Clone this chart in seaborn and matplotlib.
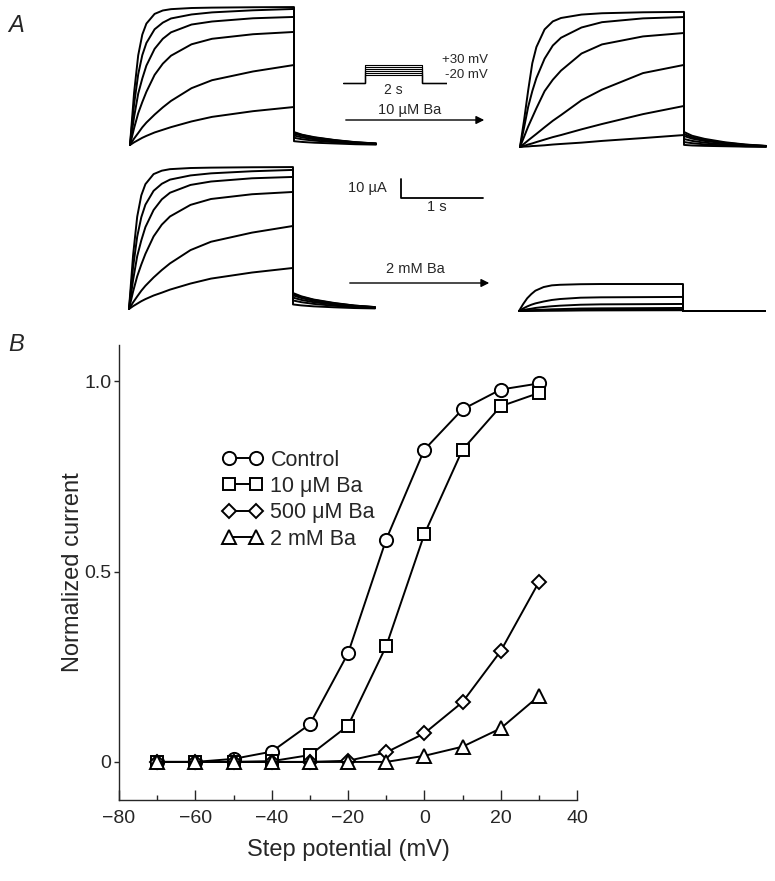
import matplotlib
matplotlib.use('Agg')

import pandas as pd
import matplotlib.pyplot as plt
import seaborn as sns
import warnings
warnings.filterwarnings('ignore')

sns.set_style('ticks')
plt.rcParams['font.family'] = ['Liberation Sans', 'DejaVu Sans']

# --------------------------------------------
# Panel B data: normalized current vs step potential
STEP_POTENTIAL = [-70, -60, -50, -40, -30, -20, -10, 0, 10, 20, 30]
CONTROL = [0.0, 0.0, 0.008, 0.027, 0.099, 0.285, 0.584, 0.82, 0.926, 0.978, 0.994]
BA_10UM = [0.0, 0.0, 0.0, 0.002, 0.018, 0.095, 0.304, 0.598, 0.82, 0.934, 0.969]
BA_500UM = [0.0, 0.0, 0.0, 0.0, 0.0, 0.003, 0.025, 0.075, 0.157, 0.291, 0.472]
BA_2MM = [0.0, 0.0, 0.0, 0.0, 0.0, 0.0, 0.0, 0.016, 0.04, 0.088, 0.173]
SERIES_NAMES = ['Control', '10 μM Ba', '500 μM Ba', '2 mM Ba']

# --------------------------------------------
# Panel A data: current traces (µA) for steps to +30 ... -20 mV
TRACE_MV = [30, 20, 10, 0, -10, -20]
T_STEP = [0, 0.05, 0.1, 0.15, 0.2, 0.3, 0.4, 0.5, 0.75, 1.0, 1.5, 2.0]
T_TAIL = [2.0, 2.1, 2.25, 2.5, 2.75, 3.0]

CTRL_TOP_STEP = [
    [0, 27.6, 47.2, 58.1, 63.9, 69.0, 70.8, 71.5, 72.1, 72.3, 72.5, 72.6],
    [0, 21.5, 37.2, 47.3, 53.7, 60.9, 64.4, 66.6, 68.7, 69.8, 70.9, 71.6],
    [0, 14.8, 27.0, 35.0, 41.8, 50.6, 55.9, 59.3, 63.4, 65.0, 66.7, 67.4],
    [0, 8.9, 16.7, 22.6, 28.0, 36.9, 42.8, 47.0, 53.0, 55.9, 58.3, 59.5],
    [0, 3.4, 6.3, 9.3, 11.8, 16.0, 19.8, 23.2, 29.9, 34.1, 38.7, 42.1],
    [0, 1.4, 2.6, 3.8, 4.8, 6.6, 8.0, 9.4, 12.4, 14.8, 17.8, 20.0],
]
CTRL_TOP_TAIL = [
    [6.8, 5.4, 4.1, 2.6, 1.5, 0.8],
    [6.5, 5.2, 3.9, 2.5, 1.4, 0.8],
    [6.0, 4.8, 3.6, 2.3, 1.3, 0.7],
    [5.0, 4.0, 3.0, 1.9, 1.1, 0.6],
    [3.8, 3.0, 2.3, 1.4, 0.8, 0.5],
    [2.0, 1.6, 1.2, 0.8, 0.4, 0.2],
]
BA10_STEP = [
    [0, 14.2, 29.9, 44.1, 52.6, 61.9, 66.1, 67.9, 69.7, 70.4, 70.9, 71.1],
    [0, 10.3, 21.2, 29.4, 36.3, 46.5, 53.4, 57.5, 62.9, 65.7, 67.7, 68.4],
    [0, 5.4, 10.8, 15.6, 20.4, 29.4, 35.4, 40.2, 49.2, 54.0, 58.2, 60.0],
    [0, 1.7, 3.5, 5.2, 6.9, 10.4, 13.8, 16.8, 24.6, 30.2, 38.9, 43.2],
    [0, 0.6, 1.3, 1.9, 2.6, 3.9, 5.2, 6.3, 9.3, 12.1, 17.3, 21.6],
    [0, 0.2, 0.3, 0.5, 0.6, 0.9, 1.3, 1.6, 2.3, 3.2, 4.7, 6.3],
]
BA10_TAIL = [
    [7.9, 5.9, 4.3, 2.5, 1.3, 0.6],
    [6.8, 5.1, 3.7, 2.2, 1.2, 0.5],
    [5.8, 4.4, 3.2, 1.9, 1.0, 0.5],
    [4.2, 3.2, 2.3, 1.3, 0.7, 0.3],
    [2.6, 2.0, 1.4, 0.8, 0.4, 0.2],
    [1.1, 0.8, 0.6, 0.4, 0.2, 0.1],
]
CTRL_BOT_STEP = [
    [0, 28.4, 48.6, 59.8, 65.7, 71.0, 72.8, 73.6, 74.2, 74.4, 74.6, 74.7],
    [0, 22.0, 38.1, 48.3, 54.9, 62.2, 65.9, 68.1, 70.3, 71.4, 72.5, 73.2],
    [0, 15.3, 27.8, 36.1, 43.1, 52.1, 57.7, 61.2, 65.3, 67.1, 68.8, 69.5],
    [0, 9.2, 17.2, 23.4, 29.0, 38.2, 44.4, 48.7, 54.8, 57.9, 60.4, 61.6],
    [0, 3.5, 6.6, 9.6, 12.2, 16.6, 20.5, 24.0, 31.0, 35.4, 40.2, 43.7],
    [0, 1.5, 2.8, 4.1, 5.2, 7.1, 8.6, 10.2, 13.4, 16.0, 19.2, 21.6],
]
CTRL_BOT_TAIL = [
    [8.4, 6.7, 5.0, 3.2, 1.8, 1.0],
    [8.0, 6.4, 4.8, 3.0, 1.8, 1.0],
    [7.2, 5.8, 4.3, 2.7, 1.6, 0.9],
    [6.0, 4.8, 3.6, 2.3, 1.3, 0.7],
    [4.5, 3.6, 2.7, 1.7, 1.0, 0.5],
    [2.4, 1.9, 1.4, 0.9, 0.5, 0.3],
]
BA2MM_STEP = [
    [0, 3.6, 6.7, 8.9, 10.7, 12.6, 13.5, 13.8, 14.1, 14.2, 14.2, 14.2],
    [0, 1.3, 2.4, 3.3, 4.0, 5.0, 5.8, 6.3, 7.0, 7.2, 7.3, 7.4],
    [0, 0.4, 0.9, 1.2, 1.6, 2.1, 2.5, 2.8, 3.3, 3.5, 3.6, 3.7],
    [0, 0.2, 0.3, 0.4, 0.5, 0.7, 0.9, 1.0, 1.3, 1.4, 1.5, 1.6],
    [0, 0.05, 0.1, 0.15, 0.2, 0.3, 0.35, 0.4, 0.5, 0.6, 0.65, 0.7],
    [0, 0.03, 0.05, 0.08, 0.1, 0.15, 0.18, 0.2, 0.28, 0.32, 0.37, 0.4],
]
BA2MM_TAIL = [[0, 0, 0, 0, 0, 0] for _ in TRACE_MV]

# voltage protocol (mV) and its time axis (s)
HOLD_MV = -60
PROTO_T = [-0.77, 0, 0, 2, 2, 2.88]

# --------------------------------------------
W, H = 775, 881
PX_PER_S = 82
PX_PER_UA = 1.9
T_MAX = 3.0
I_MIN, I_MAX = -3, 76

fig = plt.figure(figsize=(W / 100, H / 100), dpi=100)


def px_axes(left, top, width, height):
    return fig.add_axes([left / W, 1 - (top + height) / H, width / W, height / H])


def trace_axes(x0, base_y, steps, tails):
    ax = px_axes(x0, base_y - I_MAX * PX_PER_UA, T_MAX * PX_PER_S,
                 (I_MAX - I_MIN) * PX_PER_UA)
    for s, tl in zip(steps, tails):
        sns.lineplot(x=T_STEP + T_TAIL, y=s + tl, estimator=None, sort=False,
                     color='black', lw=1.4, clip_on=False, ax=ax)
    ax.set_xlim(0, T_MAX)
    ax.set_ylim(I_MIN, I_MAX)
    ax.axis('off')
    return ax


# overlay for labels, arrows
ov = fig.add_axes([0, 0, 1, 1])
ov.set_xlim(0, W)
ov.set_ylim(H, 0)
ov.axis('off')

trace_axes(130, 145, CTRL_TOP_STEP, CTRL_TOP_TAIL)
trace_axes(520, 147, BA10_STEP, BA10_TAIL)
trace_axes(129, 309, CTRL_BOT_STEP, CTRL_BOT_TAIL)
trace_axes(519, 311, BA2MM_STEP, BA2MM_TAIL)

# voltage protocol inset
pa = px_axes(343, 60, 104, 27)
for v in TRACE_MV:
    pa.plot(PROTO_T, [HOLD_MV, HOLD_MV, v, v, HOLD_MV, HOLD_MV], color='black', lw=0.8)
pa.set_xlim(-0.77, 2.88)
pa.set_ylim(-80, 55)
pa.axis('off')

# scale bar: 10 µA, 1 s
sb = px_axes(401, 198 - 10 * PX_PER_UA, 1 * PX_PER_S, 10 * PX_PER_UA)
sb.plot([0, 0, 1], [10, 0, 0], color='black', lw=1.3, clip_on=False)
sb.set_xlim(0, 1)
sb.set_ylim(0, 10)
sb.axis('off')

ov.text(8, 32, 'A', fontsize=17, style='italic')
ov.text(8, 351, 'B', fontsize=17, style='italic')
ov.text(442, 60, '+30 mV', fontsize=9.5, va='center')
ov.text(445, 75, '-20 mV', fontsize=9.5, va='center')
ov.text(393, 90, '2 s', fontsize=10, ha='center', va='center')
ov.text(410, 110, '10 µM Ba', fontsize=10.5, ha='center', va='center')
ov.text(387, 188, '10 µA', fontsize=10.5, ha='right', va='center')
ov.text(437, 207, '1 s', fontsize=10.5, ha='center', va='center')
ov.text(415, 269, '2 mM Ba', fontsize=10.5, ha='center', va='center')
for y, x0, x1 in [(120, 343, 487), (283, 347, 492)]:
    ov.annotate('', xy=(x1, y), xytext=(x0, y),
                arrowprops=dict(arrowstyle='-|>', color='black', lw=1, mutation_scale=12))

# --------------------------------------------
# Panel B
ax = px_axes(119, 345, 458, 455)
markers = [('o', 9.5), ('s', 8.5), ('D', 7), ('^', 10)]
for vals, name, (m, ms) in zip([CONTROL, BA_10UM, BA_500UM, BA_2MM], SERIES_NAMES, markers):
    sns.lineplot(x=STEP_POTENTIAL, y=vals, marker=m, markersize=ms, color='black',
                 mfc='white', mec='black', mew=1.4, lw=1.4, label=name, ax=ax)

ax.set_xlim(-80, 40)
ax.set_ylim(-0.1, 1.095)
ax.set_xticks(range(-80, 41, 20))
ax.set_xticks(range(-70, 40, 20), minor=True)
ax.set_yticks([0, 0.5, 1.0])
ax.set_yticklabels(['0', '0.5', '1.0'])
ax.tick_params(axis='x', which='major', direction='in', length=7.5, width=1, labelsize=14, pad=7)
ax.tick_params(axis='x', which='minor', direction='in', length=3.6, width=1)
ax.tick_params(axis='y', direction='out', length=3.6, width=1, labelsize=14, pad=2)
for sp in ['left', 'bottom']:
    ax.spines[sp].set_linewidth(1)
sns.despine(ax=ax)
ax.set_xlabel('Step potential (mV)', fontsize=17, labelpad=9)
ax.set_ylabel('Normalized current', fontsize=17, labelpad=0)
ax.legend(numpoints=2, frameon=False, fontsize=15.5, loc='upper left',
          bbox_to_anchor=(0.225, 0.77), borderpad=0, handlelength=1.9,
          handletextpad=0.35, labelspacing=0.25, borderaxespad=0)

fig.savefig('out.png', dpi=100)
